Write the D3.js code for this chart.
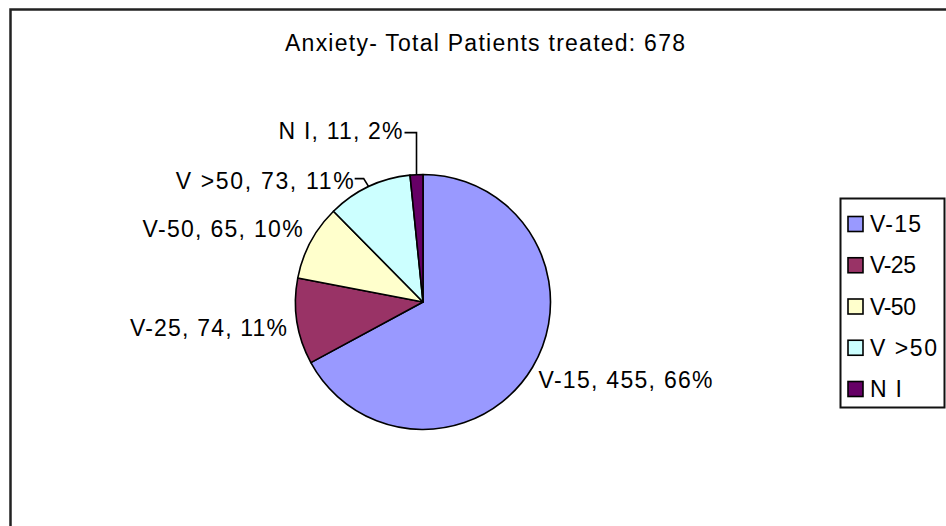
<!DOCTYPE html>
<html>
<head>
<meta charset="utf-8">
<script src="https://cdn.jsdelivr.net/npm/d3@7"></script>
<style>
  html, body { margin: 0; padding: 0; background: #fff; overflow: hidden; }
  svg { display: block; }
  text { font-family: "Liberation Sans", Arial, sans-serif; fill: #000; }
</style>
</head>
<body>
<svg id="chart" width="946" height="526"></svg>
<script>
// ---- data ----
const title = "Anxiety- Total Patients treated: 678";
const categories = ["V-15", "V-25", "V-50", "V >50", "N I"];
const values = [455, 74, 65, 73, 11];
const percents = [66, 11, 10, 11, 2];
const colors = ["#9999FF", "#993366", "#FFFFCC", "#CCFFFF", "#660066"];

// ---- layout ----
const W = 946, H = 526;
const cx = 423, cy = 302, R = 127.5;
const fontSize = 23;

// label placement relative to the slice's outer-edge midpoint
// dx, dy: text anchor offset; anchor; leader: kind of leader line; width: text width
const labelLayout = [
  { dx: 6,  dy: 21, anchor: "start", leader: null, width: 174 },
  { dx: -10, dy: 15, anchor: "end",  leader: null, width: 157 },
  { dx: -8, dy: -5, anchor: "end",   leader: null, width: 160 },
  { dx: -15, dy: 2, anchor: "end",   leader: "diag", width: 178 },
  { dx: -14, dy: -36, anchor: "end", leader: "vert", width: 124 }
];
const legendWidths = [51, 46, 46, 67, 32];

const svg = d3.select("#chart");

// outer chart border (extends beyond the window on right/bottom)
svg.append("rect")
  .attr("x", 10.5).attr("y", 9.5)
  .attr("width", W + 20).attr("height", H + 20)
  .attr("fill", "#fff")
  .attr("stroke", "#222").attr("stroke-width", 2.5);

// title
svg.append("text")
  .attr("x", 285).attr("y", 51)
  .attr("font-size", fontSize)
  .attr("textLength", 400).attr("lengthAdjust", "spacing")
  .text(title);

// pie
const pie = d3.pie().sort(null).value(d => d.value).startAngle(0).endAngle(2 * Math.PI);
const data = categories.map((c, i) => ({ cat: c, value: values[i], pct: percents[i], color: colors[i], i }));
const arcs = pie(data);
const arc = d3.arc().innerRadius(0).outerRadius(R);

const g = svg.append("g").attr("transform", `translate(${cx},${cy})`);
g.selectAll("path.slice")
  .data(arcs)
  .join("path")
  .attr("class", "slice")
  .attr("d", arc)
  .attr("fill", d => d.data.color)
  .attr("stroke", "#000")
  .attr("stroke-width", 1.6)
  .attr("stroke-linejoin", "round");

// labels
const edgePoint = d => {
  const a = (d.startAngle + d.endAngle) / 2;
  return [R * Math.sin(a), -R * Math.cos(a)];
};

arcs.forEach((d, i) => {
  const L = labelLayout[i];
  const [ex, ey] = edgePoint(d);
  const tx = ex + L.dx, ty = ey + L.dy;
  g.append("text")
    .attr("x", tx).attr("y", ty)
    .attr("text-anchor", L.anchor)
    .attr("font-size", fontSize)
    .attr("textLength", L.width).attr("lengthAdjust", "spacing")
    .text(`${d.data.cat}, ${d.data.value}, ${d.data.pct}%`);

  if (L.leader === "vert") {
    const yTop = ty - 6;
    g.append("path")
      .attr("d", `M${tx + 2},${yTop} H${ex} V${ey}`)
      .attr("fill", "none").attr("stroke", "#000").attr("stroke-width", 1.6);
  } else if (L.leader === "diag") {
    const yTop = ty - 10;
    g.append("path")
      .attr("d", `M${tx + 1},${yTop} H${ex - 5} L${ex},${ey}`)
      .attr("fill", "none").attr("stroke", "#000").attr("stroke-width", 1.6);
  }
});

// legend
const lgX = 840.5, lgY = 198.5, lgW = 104, lgH = 209;
svg.append("rect")
  .attr("x", lgX).attr("y", lgY).attr("width", lgW).attr("height", lgH)
  .attr("fill", "#fff").attr("stroke", "#111").attr("stroke-width", 2);

const ly = d3.scalePoint().domain(categories).range([224, 389]);
const lg = svg.append("g");
categories.forEach((c, i) => {
  const y = ly(c);
  lg.append("rect")
    .attr("x", 848).attr("y", y - 7.5).attr("width", 15).attr("height", 15)
    .attr("fill", colors[i]).attr("stroke", "#000").attr("stroke-width", 1.6);
  lg.append("text")
    .attr("x", 870).attr("y", y + 8)
    .attr("font-size", fontSize)
    .attr("textLength", legendWidths[i]).attr("lengthAdjust", "spacing")
    .text(c);
});
</script>
</body>
</html>
